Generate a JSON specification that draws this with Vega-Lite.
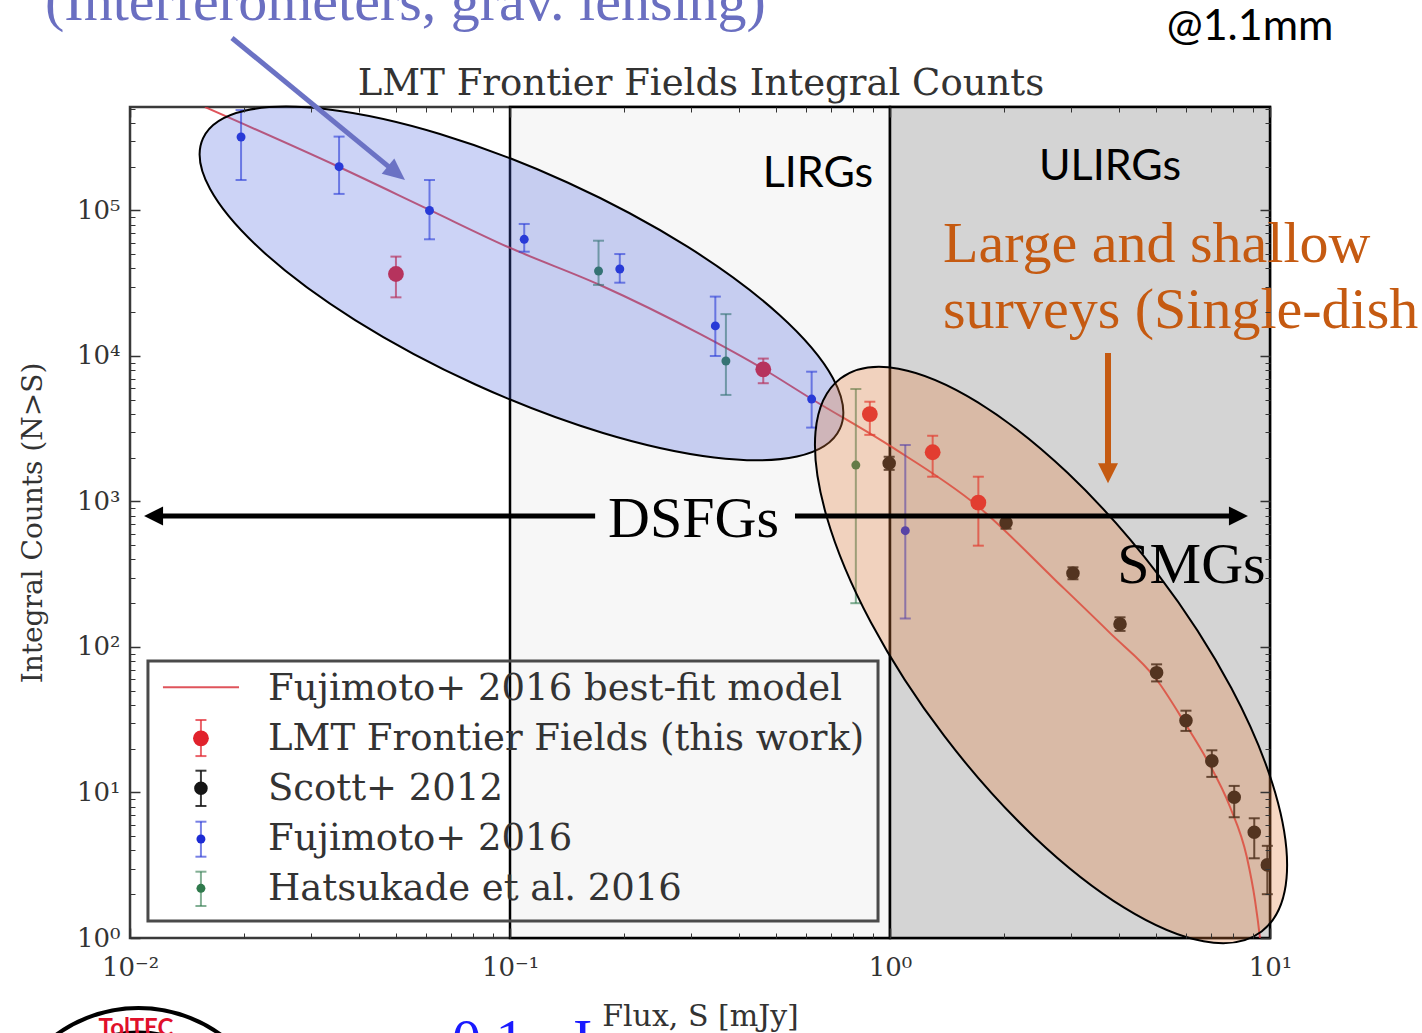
{
  "$schema": "https://vega.github.io/schema/vega-lite/v6.json",
  "width": 1140,
  "height": 831,
  "autosize": {"type": "none"},
  "padding": {"left": 130, "top": 107, "right": 152, "bottom": 95},
  "background": "white",
  "config": {"view": {"stroke": "#3a3a3a", "strokeWidth": 2.5, "fill": "white"}},
  "datasets": {
    "bands": [
      {"band": "LIRGs", "S": 0.1, "S2": 1, "N": 1, "N2": 514400},
      {"band": "ULIRGs", "S": 1, "S2": 10, "N": 1, "N2": 514400}
    ],
    "model": [
      {"S": 0.01575, "N": 514000},
      {"S": 0.0355, "N": 199000},
      {"S": 0.0614, "N": 101000},
      {"S": 0.0988, "N": 56100},
      {"S": 0.1725, "N": 30760},
      {"S": 0.316, "N": 14170},
      {"S": 0.464, "N": 8140},
      {"S": 0.622, "N": 5065},
      {"S": 1.0, "N": 2410},
      {"S": 1.7, "N": 931},
      {"S": 2.72, "N": 289},
      {"S": 3.79, "N": 125},
      {"S": 5.04, "N": 59.3},
      {"S": 5.97, "N": 30.0},
      {"S": 6.83, "N": 16.7},
      {"S": 7.85, "N": 7.95},
      {"S": 8.69, "N": 3.6},
      {"S": 9.13, "N": 1.82},
      {"S": 9.41, "N": 1.0},
      {"S": 9.6, "N": 0.6}
    ],
    "markers": [
      {"survey": "Scott+ 2012", "S": 0.995, "N": 1830, "lo": 1650, "hi": 2030},
      {"survey": "Scott+ 2012", "S": 2.02, "N": 715, "lo": 650, "hi": 790},
      {"survey": "Scott+ 2012", "S": 3.03, "N": 321, "lo": 292, "hi": 353},
      {"survey": "Scott+ 2012", "S": 4.03, "N": 144, "lo": 129, "hi": 160},
      {"survey": "Scott+ 2012", "S": 5.03, "N": 66.6, "lo": 58, "hi": 76},
      {"survey": "Scott+ 2012", "S": 6.01, "N": 31.2, "lo": 26.5, "hi": 36.5},
      {"survey": "Scott+ 2012", "S": 7.03, "N": 16.5, "lo": 12.8, "hi": 19.5},
      {"survey": "Scott+ 2012", "S": 8.05, "N": 9.27, "lo": 6.76, "hi": 11.1},
      {"survey": "Scott+ 2012", "S": 9.09, "N": 5.33, "lo": 3.53, "hi": 6.65},
      {"survey": "Scott+ 2012", "S": 9.84, "N": 3.18, "lo": 2.0, "hi": 4.3},
      {"survey": "Scott+ 2012", "S": 0.01537, "N": 10.69, "lo": 8.08, "hi": 14.12},
      {"survey": "Fujimoto+ 2016", "S": 0.0196, "N": 320000, "lo": 162000, "hi": 490000},
      {"survey": "Fujimoto+ 2016", "S": 0.0355, "N": 200000, "lo": 130000, "hi": 322000},
      {"survey": "Fujimoto+ 2016", "S": 0.0614, "N": 100000, "lo": 63400, "hi": 162000},
      {"survey": "Fujimoto+ 2016", "S": 0.109, "N": 63400, "lo": 52100, "hi": 80800},
      {"survey": "Fujimoto+ 2016", "S": 0.1945, "N": 39600, "lo": 31900, "hi": 50200},
      {"survey": "Fujimoto+ 2016", "S": 0.347, "N": 16100, "lo": 10000, "hi": 25600},
      {"survey": "Fujimoto+ 2016", "S": 0.622, "N": 5060, "lo": 3220, "hi": 7800},
      {"survey": "Fujimoto+ 2016", "S": 1.097, "N": 630, "lo": 157, "hi": 2445},
      {"survey": "Fujimoto+ 2016", "S": 0.01537, "N": 4.79, "lo": 3.62, "hi": 6.3},
      {"survey": "Hatsukade et al. 2016", "S": 0.171, "N": 38400, "lo": 30800, "hi": 62000},
      {"survey": "Hatsukade et al. 2016", "S": 0.37, "N": 9240, "lo": 5400, "hi": 19400},
      {"survey": "Hatsukade et al. 2016", "S": 0.813, "N": 1780, "lo": 200, "hi": 5930},
      {"survey": "Hatsukade et al. 2016", "S": 0.01537, "N": 2.196, "lo": 1.659, "hi": 2.856},
      {"survey": "LMT Frontier Fields (this work)", "S": 0.0501, "N": 36600, "lo": 25300, "hi": 48200},
      {"survey": "LMT Frontier Fields (this work)", "S": 0.464, "N": 8100, "lo": 6500, "hi": 9600},
      {"survey": "LMT Frontier Fields (this work)", "S": 0.885, "N": 3990, "lo": 2870, "hi": 4850},
      {"survey": "LMT Frontier Fields (this work)", "S": 1.295, "N": 2180, "lo": 1480, "hi": 2830},
      {"survey": "LMT Frontier Fields (this work)", "S": 1.708, "N": 982, "lo": 497, "hi": 1480},
      {"survey": "LMT Frontier Fields (this work)", "S": 0.01537, "N": 23.58, "lo": 17.8, "hi": 31.5}
    ],
    "keybox": [{"S": 0.01115, "S2": 0.93, "N": 1.309, "N2": 80.1}],
    "keyline": [{"S": 0.01221, "S2": 0.01936, "N": 52.8}],
    "keylabels": [
      {"label": "Fujimoto+ 2016 best-fit model", "S": 0.02307, "N": 43.2},
      {"label": "LMT Frontier Fields (this work)", "S": 0.02307, "N": 19.6},
      {"label": "Scott+ 2012", "S": 0.02307, "N": 8.88},
      {"label": "Fujimoto+ 2016", "S": 0.02307, "N": 4.025},
      {"label": "Hatsukade et al. 2016", "S": 0.02307, "N": 1.825}
    ],
    "regions": [
      {"region": "faint", "S": 0.1072, "N": 31500},
      {"region": "bright", "S": 2.653, "N": 88.1}
    ],
    "shafts": [
      {"arrow": "DSFGs", "S": 0.01199, "S2": 0.1675, "N": 795, "N2": 795},
      {"arrow": "DSFGs", "S": 0.5623, "S2": 7.99, "N": 795, "N2": 795},
      {"arrow": "interferometers", "S": 0.01855, "S2": 0.04864, "N": 1533000, "N2": 194100},
      {"arrow": "single-dish", "S": 3.747, "S2": 3.747, "N": 10490, "N2": 1782}
    ],
    "heads": [
      {"arrow": "DSFGs-left", "S": 0.01089, "N": 795},
      {"arrow": "DSFGs-right", "S": 8.75, "N": 795},
      {"arrow": "interferometers", "S": 0.05293, "N": 162000},
      {"arrow": "single-dish", "S": 3.747, "N": 1334}
    ],
    "logo": [{"S": 0.01053, "N": 0.036}],
    "notes": [
      {"kind": "class", "label": "LIRGs", "S": 0.6463, "N": 145100},
      {"kind": "class", "label": "ULIRGs", "S": 3.793, "N": 162000},
      {"kind": "class", "label": "@1.1mm", "S": 8.86, "N": 1485000},
      {"kind": "population", "label": "DSFGs", "S": 0.3041, "N": 570},
      {"kind": "population", "label": "SMGs", "S": 6.215, "N": 275.4},
      {"kind": "survey", "label": "Large and shallow", "S": 1.379, "N": 44300},
      {"kind": "survey", "label": "surveys (Single-dish", "S": 1.379, "N": 15570},
      {"kind": "method", "label": "(Interferometers, grav. lensing)", "S": 0.005975, "N": 2040000},
      {"kind": "range", "label": "0.1 - I", "S": 0.0704, "N": 0.1474},
      {"kind": "logo", "label": "TolTEC", "S": 0.01037, "N": 0.2121},
      {"kind": "title", "label": "LMT Frontier Fields Integral Counts", "S": 0.3181, "N": 622000}
    ]
  },
  "encoding": {
    "x": {"field": "S", "type": "quantitative", "scale": {"type": "log", "domain": [0.01, 10], "nice": false}, "axis": null},
    "y": {"field": "N", "type": "quantitative", "scale": {"type": "log", "domain": [1, 514400], "nice": false}, "axis": null}
  },
  "layer": [
    {
      "data": {"name": "bands"},
      "mark": {"type": "rect", "stroke": "black", "strokeWidth": 2.5},
      "encoding": {
        "x2": {"field": "S2"},
        "y2": {"field": "N2"},
        "fill": {"field": "band", "type": "nominal", "scale": {"domain": ["LIRGs", "ULIRGs"], "range": ["#f7f7f7", "#d4d4d4"]}, "legend": null}
      }
    },
    {
      "data": {"name": "bands"},
      "mark": {"type": "point", "opacity": 0},
      "encoding": {
        "x": {"field": "S", "type": "quantitative", "scale": {"type": "log", "domain": [0.01, 10], "nice": false},
          "axis": {"orient": "bottom", "values": [0.01, 0.1, 1, 10], "domain": false, "grid": false, "zindex": 1,
            "tickSize": -10, "tickWidth": 1.5, "tickColor": "#333",
            "labelExpr": "'10' + ['⁻²', '⁻¹', '⁰', '¹'][round(log(datum.value) / LN10) + 2]",
            "labelFont": "DejaVu Serif", "labelFontSize": 26, "labelColor": "#333", "labelPadding": 26,
            "labelFlush": false, "labelOverlap": false,
            "title": "Flux, S [mJy]", "titleFont": "DejaVu Serif", "titleFontSize": 30, "titleFontWeight": "normal",
            "titleColor": "#333", "titleX": 570, "titleY": 87, "titleAlign": "center", "titleBaseline": "alphabetic"}},
        "y": {"field": "N", "type": "quantitative", "scale": {"type": "log", "domain": [1, 514400], "nice": false},
          "axis": {"orient": "left", "values": [1, 10, 100, 1000, 10000, 100000], "domain": false, "grid": false, "zindex": 1,
            "tickSize": -10, "tickWidth": 1.5, "tickColor": "#333",
            "labelExpr": "'10' + ['⁰', '¹', '²', '³', '⁴', '⁵'][round(log(datum.value) / LN10)]",
            "labelFont": "DejaVu Serif", "labelFontSize": 26, "labelColor": "#333", "labelPadding": 20,
            "labelFlush": false, "labelOverlap": false, "labelBaseline": "middle",
            "title": "Integral Counts (N>S)", "titleFont": "DejaVu Serif", "titleFontSize": 28, "titleFontWeight": "normal",
            "titleColor": "#333", "titleX": -97, "titleY": 415.5, "titleAngle": 270, "titleAlign": "center", "titleBaseline": "middle"}}
      }
    },
    {
      "data": {"name": "bands"},
      "mark": {"type": "point", "opacity": 0},
      "encoding": {
        "x": {"field": "S", "type": "quantitative", "scale": {"type": "log", "domain": [0.01, 10], "nice": false},
          "axis": {"orient": "bottom", "values": [0.02, 0.03, 0.04, 0.05, 0.06, 0.07, 0.08, 0.09, 0.2, 0.3, 0.4, 0.5, 0.6, 0.7, 0.8, 0.9, 2, 3, 4, 5, 6, 7, 8, 9],
            "domain": false, "grid": false, "zindex": 1, "tickSize": -5, "tickWidth": 1, "tickColor": "#333", "labels": false, "title": null}},
        "y": {"field": "N", "type": "quantitative", "scale": {"type": "log", "domain": [1, 514400], "nice": false},
          "axis": {"orient": "left", "values": [2, 3, 4, 5, 6, 7, 8, 9, 20, 30, 40, 50, 60, 70, 80, 90, 200, 300, 400, 500, 600, 700, 800, 900, 2000, 3000, 4000, 5000, 6000, 7000, 8000, 9000, 20000, 30000, 40000, 50000, 60000, 70000, 80000, 90000, 200000, 300000, 400000, 500000],
            "domain": false, "grid": false, "zindex": 1, "tickSize": -5, "tickWidth": 1, "tickColor": "#333", "labels": false, "title": null}}
      }
    },
    {
      "data": {"name": "bands"},
      "mark": {"type": "point", "opacity": 0},
      "encoding": {
        "x": {"field": "S", "type": "quantitative", "scale": {"type": "log", "domain": [0.01, 10], "nice": false},
          "axis": {"orient": "top", "values": [0.01, 0.1, 1, 10], "domain": false, "grid": false, "zindex": 1,
            "tickSize": -10, "tickWidth": 1.5, "tickColor": "#333", "labels": false, "title": null}},
        "y": {"field": "N", "type": "quantitative", "scale": {"type": "log", "domain": [1, 514400], "nice": false},
          "axis": {"orient": "right", "values": [1, 10, 100, 1000, 10000, 100000], "domain": false, "grid": false, "zindex": 1,
            "tickSize": -10, "tickWidth": 1.5, "tickColor": "#333", "labels": false, "title": null}}
      }
    },
    {
      "data": {"name": "bands"},
      "mark": {"type": "point", "opacity": 0},
      "encoding": {
        "x": {"field": "S", "type": "quantitative", "scale": {"type": "log", "domain": [0.01, 10], "nice": false},
          "axis": {"orient": "top", "values": [0.02, 0.03, 0.04, 0.05, 0.06, 0.07, 0.08, 0.09, 0.2, 0.3, 0.4, 0.5, 0.6, 0.7, 0.8, 0.9, 2, 3, 4, 5, 6, 7, 8, 9],
            "domain": false, "grid": false, "zindex": 1, "tickSize": -5, "tickWidth": 1, "tickColor": "#333", "labels": false, "title": null}},
        "y": {"field": "N", "type": "quantitative", "scale": {"type": "log", "domain": [1, 514400], "nice": false},
          "axis": {"orient": "right", "values": [2, 3, 4, 5, 6, 7, 8, 9, 20, 30, 40, 50, 60, 70, 80, 90, 200, 300, 400, 500, 600, 700, 800, 900, 2000, 3000, 4000, 5000, 6000, 7000, 8000, 9000, 20000, 30000, 40000, 50000, 60000, 70000, 80000, 90000, 200000, 300000, 400000, 500000],
            "domain": false, "grid": false, "zindex": 1, "tickSize": -5, "tickWidth": 1, "tickColor": "#333", "labels": false, "title": null}}
      }
    },
    {
      "data": {"name": "model"},
      "mark": {"type": "line", "clip": true, "color": "#d9363e", "strokeWidth": 2, "opacity": 0.85, "interpolate": "monotone"}
    },
    {
      "data": {"name": "keybox"},
      "mark": {"type": "rect", "fill": "white", "fillOpacity": 0, "stroke": "#4a4a4a", "strokeWidth": 3},
      "encoding": {"x2": {"field": "S2"}, "y2": {"field": "N2"}}
    },
    {
      "data": {"name": "keyline"},
      "mark": {"type": "rule", "color": "#d9363e", "strokeWidth": 2, "opacity": 0.85},
      "encoding": {"x2": {"field": "S2"}}
    },
    {
      "data": {"name": "keylabels"},
      "mark": {"type": "text", "font": "DejaVu Serif", "fontSize": 37, "color": "#333", "align": "left", "baseline": "alphabetic"},
      "encoding": {"text": {"field": "label", "type": "nominal"}}
    },
    {
      "data": {"name": "markers"},
      "mark": {"type": "rule", "strokeWidth": 2},
      "encoding": {
        "y": {"field": "lo", "type": "quantitative", "scale": {"type": "log", "domain": [1, 514400], "nice": false}, "axis": null},
        "y2": {"field": "hi"},
        "color": {"field": "survey", "type": "nominal", "scale": {"domain": ["Scott+ 2012", "Fujimoto+ 2016", "Hatsukade et al. 2016", "LMT Frontier Fields (this work)"], "range": ["#151515", "#1c2bd4", "#2f7a4c", "#e1222c"]}, "legend": null},
        "opacity": {"condition": [{"test": "datum.survey == 'Scott+ 2012'", "value": 0.85}, {"test": "datum.survey == 'LMT Frontier Fields (this work)'", "value": 0.7}], "value": 0.6}
      }
    },
    {
      "data": {"name": "markers"},
      "mark": {"type": "tick", "orient": "horizontal", "size": 11, "thickness": 2},
      "encoding": {
        "y": {"field": "lo", "type": "quantitative", "scale": {"type": "log", "domain": [1, 514400], "nice": false}, "axis": null},
        "color": {"field": "survey", "type": "nominal", "scale": {"domain": ["Scott+ 2012", "Fujimoto+ 2016", "Hatsukade et al. 2016", "LMT Frontier Fields (this work)"], "range": ["#151515", "#1c2bd4", "#2f7a4c", "#e1222c"]}, "legend": null},
        "opacity": {"condition": [{"test": "datum.survey == 'Scott+ 2012'", "value": 0.85}, {"test": "datum.survey == 'LMT Frontier Fields (this work)'", "value": 0.7}], "value": 0.6}
      }
    },
    {
      "data": {"name": "markers"},
      "mark": {"type": "tick", "orient": "horizontal", "size": 11, "thickness": 2},
      "encoding": {
        "y": {"field": "hi", "type": "quantitative", "scale": {"type": "log", "domain": [1, 514400], "nice": false}, "axis": null},
        "color": {"field": "survey", "type": "nominal", "scale": {"domain": ["Scott+ 2012", "Fujimoto+ 2016", "Hatsukade et al. 2016", "LMT Frontier Fields (this work)"], "range": ["#151515", "#1c2bd4", "#2f7a4c", "#e1222c"]}, "legend": null},
        "opacity": {"condition": [{"test": "datum.survey == 'Scott+ 2012'", "value": 0.85}, {"test": "datum.survey == 'LMT Frontier Fields (this work)'", "value": 0.7}], "value": 0.6}
      }
    },
    {
      "data": {"name": "markers"},
      "mark": {"type": "point", "filled": true, "opacity": 1, "strokeWidth": 0, "clip": true},
      "encoding": {
        "color": {"field": "survey", "type": "nominal", "scale": {"domain": ["Scott+ 2012", "Fujimoto+ 2016", "Hatsukade et al. 2016", "LMT Frontier Fields (this work)"], "range": ["#151515", "#1c2bd4", "#2f7a4c", "#e1222c"]}, "legend": null},
        "size": {"condition": [{"test": "datum.survey == 'LMT Frontier Fields (this work)'", "value": 250}, {"test": "datum.survey == 'Scott+ 2012'", "value": 185}], "value": 80}
      }
    },
    {
      "data": {"name": "regions"},
      "transform": [{"filter": "datum.region == 'faint'"}],
      "mark": {"type": "point", "shape": "M -1 0 A 1 0.3171 0 1 0 1 0 A 1 0.3171 0 1 0 -1 0 Z", "size": 490000, "angle": 24.5,
        "filled": true, "fill": "#4862de", "fillOpacity": 0.28, "stroke": "black", "strokeWidth": 2, "strokeOpacity": 1, "opacity": 1}
    },
    {
      "data": {"name": "regions"},
      "transform": [{"filter": "datum.region == 'bright'"}],
      "mark": {"type": "point", "shape": "M -1 0 A 1 0.3856 0 1 0 1 0 A 1 0.3856 0 1 0 -1 0 Z", "size": 483025, "angle": 52.7,
        "filled": true, "fill": "#e67e3c", "fillOpacity": 0.3, "stroke": "black", "strokeWidth": 2, "strokeOpacity": 1, "opacity": 1}
    },
    {
      "data": {"name": "shafts"},
      "transform": [{"filter": "datum.arrow == 'DSFGs'"}],
      "mark": {"type": "rule", "color": "black", "strokeWidth": 5},
      "encoding": {"x2": {"field": "S2"}, "y2": {"field": "N2"}}
    },
    {
      "data": {"name": "shafts"},
      "transform": [{"filter": "datum.arrow == 'interferometers'"}],
      "mark": {"type": "rule", "color": "#6b72c4", "strokeWidth": 5},
      "encoding": {"x2": {"field": "S2"}, "y2": {"field": "N2"}}
    },
    {
      "data": {"name": "shafts"},
      "transform": [{"filter": "datum.arrow == 'single-dish'"}],
      "mark": {"type": "rule", "color": "#c55a11", "strokeWidth": 6},
      "encoding": {"x2": {"field": "S2"}, "y2": {"field": "N2"}}
    },
    {
      "data": {"name": "heads"},
      "transform": [{"filter": "datum.arrow == 'DSFGs-left'"}],
      "mark": {"type": "point", "shape": "M 0 0 L -2 -1 L -2 1 Z", "size": 361, "angle": 180, "filled": true, "color": "black", "opacity": 1}
    },
    {
      "data": {"name": "heads"},
      "transform": [{"filter": "datum.arrow == 'DSFGs-right'"}],
      "mark": {"type": "point", "shape": "M 0 0 L -2 -1 L -2 1 Z", "size": 361, "angle": 0, "filled": true, "color": "black", "opacity": 1}
    },
    {
      "data": {"name": "heads"},
      "transform": [{"filter": "datum.arrow == 'interferometers'"}],
      "mark": {"type": "point", "shape": "M 0 0 L -2 -0.9 L -2 0.9 Z", "size": 484, "angle": 39.4, "filled": true, "color": "#6b72c4", "opacity": 1}
    },
    {
      "data": {"name": "heads"},
      "transform": [{"filter": "datum.arrow == 'single-dish'"}],
      "mark": {"type": "point", "shape": "M 0 0 L -2 -1 L -2 1 Z", "size": 400, "angle": 90, "filled": true, "color": "#c55a11", "opacity": 1}
    },
    {
      "data": {"name": "logo"},
      "mark": {"type": "point", "shape": "circle", "size": 78400, "filled": false, "stroke": "black", "strokeWidth": 4, "opacity": 1}
    },
    {
      "data": {"name": "logo"},
      "mark": {"type": "point", "shape": "circle", "size": 52900, "filled": false, "stroke": "black", "strokeWidth": 5, "opacity": 1}
    },
    {
      "data": {"name": "notes"},
      "transform": [{"filter": "datum.kind == 'class'"}],
      "mark": {"type": "text", "font": "Lato", "fontSize": 43, "color": "black", "align": "center", "baseline": "alphabetic"},
      "encoding": {"text": {"field": "label", "type": "nominal"}}
    },
    {
      "data": {"name": "notes"},
      "transform": [{"filter": "datum.kind == 'population'"}],
      "mark": {"type": "text", "font": "Liberation Serif", "fontSize": 58, "color": "black", "align": "center", "baseline": "alphabetic"},
      "encoding": {"text": {"field": "label", "type": "nominal"}}
    },
    {
      "data": {"name": "notes"},
      "transform": [{"filter": "datum.kind == 'survey'"}],
      "mark": {"type": "text", "font": "Liberation Serif", "fontSize": 58, "color": "#c55a11", "align": "left", "baseline": "alphabetic"},
      "encoding": {"text": {"field": "label", "type": "nominal"}}
    },
    {
      "data": {"name": "notes"},
      "transform": [{"filter": "datum.kind == 'method'"}],
      "mark": {"type": "text", "font": "Liberation Serif", "fontSize": 58, "color": "#6a6fc1", "align": "left", "baseline": "alphabetic"},
      "encoding": {"text": {"field": "label", "type": "nominal"}}
    },
    {
      "data": {"name": "notes"},
      "transform": [{"filter": "datum.kind == 'range'"}],
      "mark": {"type": "text", "font": "Liberation Serif", "fontSize": 58, "color": "#1a1aff", "align": "left", "baseline": "alphabetic"},
      "encoding": {"text": {"field": "label", "type": "nominal"}}
    },
    {
      "data": {"name": "notes"},
      "transform": [{"filter": "datum.kind == 'logo'"}],
      "mark": {"type": "text", "font": "Lato", "fontSize": 24, "fontWeight": "bold", "color": "#e0102a", "align": "center", "baseline": "alphabetic"},
      "encoding": {"text": {"field": "label", "type": "nominal"}}
    },
    {
      "data": {"name": "notes"},
      "transform": [{"filter": "datum.kind == 'title'"}],
      "mark": {"type": "text", "font": "DejaVu Serif", "fontSize": 37, "color": "#333", "align": "center", "baseline": "alphabetic"},
      "encoding": {"text": {"field": "label", "type": "nominal"}}
    }
  ],
  "resolve": {"axis": {"x": "independent", "y": "independent"}}
}
